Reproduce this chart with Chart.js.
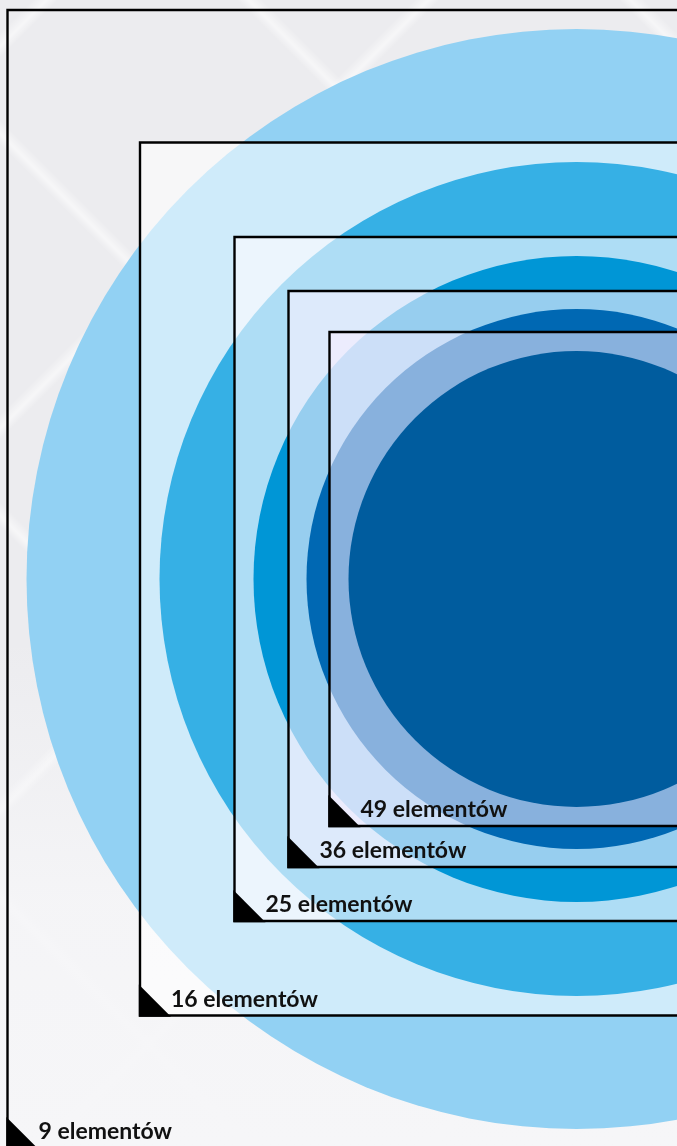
<!DOCTYPE html>
<html>
<head>
<meta charset="utf-8">
<script src="https://cdn.jsdelivr.net/npm/chart.js@4/dist/chart.umd.min.js"></script>
<style>
  html, body { margin: 0; padding: 0; }
  body {
    width: 677px;
    height: 1146px;
    overflow: hidden;
    background:
      linear-gradient(to bottom, rgba(246,246,248,0) 0px, rgba(246,246,248,0) 640px, rgba(246,246,248,0.85) 900px, rgba(246,246,248,1) 1146px),
      repeating-linear-gradient(45deg, rgba(255,255,255,0) 0px, rgba(255,255,255,0) 168px, rgba(255,255,255,0.55) 176px, rgba(255,255,255,0) 186px, rgba(255,255,255,0) 270px),
      repeating-linear-gradient(-45deg, rgba(255,255,255,0) 0px, rgba(255,255,255,0) 168px, rgba(255,255,255,0.55) 176px, rgba(255,255,255,0) 186px, rgba(255,255,255,0) 270px),
      #ececef;
  }
  #wrap { position: absolute; left: 0; top: 0; width: 677px; height: 1146px; }
</style>
</head>
<body>
<div id="wrap"><canvas id="kola" width="677" height="1146"></canvas></div>
<script>
// Dane (jednostki = piksele, środek kół w 0,0)
const etykiety = ["9 elementów", "16 elementów", "25 elementów", "36 elementów", "49 elementów"];
const polBoku = [569, 436.5, 342, 288, 247];   // połowa boku kwadratu
const promien = [550, 417, 323, 270, 228];     // promień koła
const koloryKol = ["#92D1F3", "#36B0E5", "#0096D6", "#0068B3", "#005C9E"];
const wypelnienia = [
  "rgba(255,255,255,0)",
  "rgba(255,255,255,0.56)",
  "rgba(255,251,255,0.6)",
  "rgba(252,244,255,0.6)",
  "rgba(248,236,255,0.55)",
];

// zakres osi, tak żeby środek wypadł w (576.5, 579)
const xMin = -576.5, xMax = 100.5;
const yMin = -567, yMax = 579;

// długość w pikselach z jednostek osi
function px(chart, v) {
  const s = chart.scales.x;
  return Math.abs(s.getPixelForValue(v) - s.getPixelForValue(0));
}

// kwadrat, potem koło, potem kolejny kwadrat...
const zestawy = [];
etykiety.forEach((et, i) => {
  zestawy.push({
    label: et,
    data: [{ x: 0, y: 0 }],
    pointStyle: "rect",
    pointRadius: (ctx) => px(ctx.chart, polBoku[i]) / Math.SQRT1_2,
    pointBackgroundColor: wypelnienia[i],
    pointBorderColor: "#000",
    pointBorderWidth: 2.4,
  });
  zestawy.push({
    label: "koło " + et,
    data: [{ x: 0, y: 0 }],
    pointStyle: "circle",
    pointRadius: (ctx) => px(ctx.chart, promien[i]),
    pointBackgroundColor: koloryKol[i],
    pointBorderWidth: 0,
  });
});
zestawy.forEach((z, i) => { z.order = zestawy.length - i; });

// trójkąty w rogach i podpisy
const podpisy = {
  id: "podpisy",
  afterDatasetsDraw(chart) {
    const ctx = chart.ctx;
    const sx = chart.scales.x, sy = chart.scales.y;
    ctx.save();
    polBoku.forEach((h, i) => {
      const lewo = sx.getPixelForValue(-h);
      const dol = sy.getPixelForValue(-h);
      ctx.fillStyle = "#000";
      ctx.beginPath();
      ctx.moveTo(lewo - 1.2, dol - 31);
      ctx.lineTo(lewo - 1.2, dol + 1.2);
      ctx.lineTo(lewo + 31, dol + 1.2);
      ctx.closePath();
      ctx.fill();
      ctx.fillStyle = "#111";
      ctx.font = "bold 23px Lato";
      ctx.textBaseline = "alphabetic";
      ctx.fillText(etykiety[i], lewo + 31, dol - 9);
    });
    ctx.restore();
  },
};

new Chart(document.getElementById("kola"), {
  type: "scatter",
  data: { datasets: zestawy },
  options: {
    responsive: false,
    animation: false,
    events: [],
    layout: { padding: 0 },
    plugins: { legend: { display: false }, tooltip: { enabled: false } },
    scales: {
      x: { type: "linear", min: xMin, max: xMax, display: false },
      y: { type: "linear", min: yMin, max: yMax, display: false },
    },
  },
  plugins: [podpisy],
});
</script>
</body>
</html>
